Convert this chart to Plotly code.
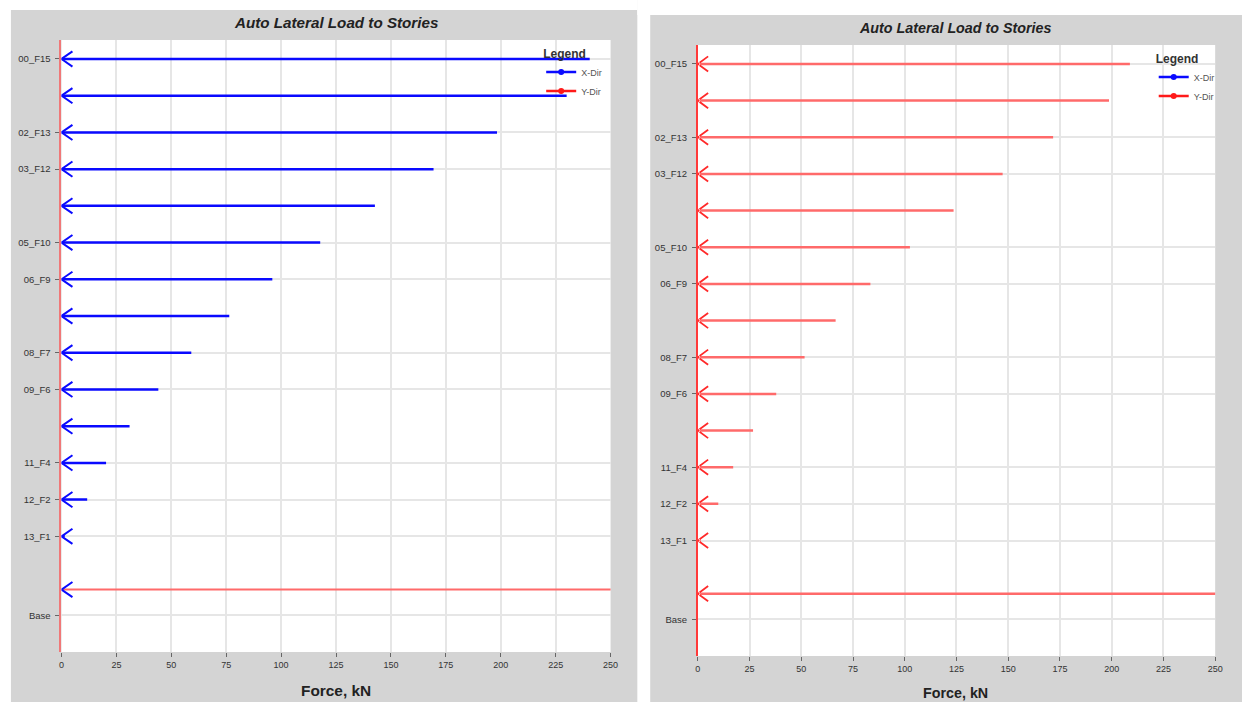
import plotly.graph_objects as go

# ---- figure frame (pixels) ----
W, H = 1242, 702

# ---- data ----
# Elevation (m) of every level that receives an auto lateral load, top to bottom
load_elev = [45.45, 42.45, 39.45, 36.45, 33.45, 30.45, 27.45, 24.45,
             21.45, 18.45, 15.45, 12.45, 9.45, 6.45, 2.1]

# X-direction auto lateral load per level (kN)
x_dir_load = [240.5, 230.0, 198.3, 169.4, 142.7, 117.8, 96.0, 76.4,
              59.1, 44.1, 31.0, 20.3, 11.7, 1.5, 0.0]

# Y-direction load reported together with the X case (kN)
x_case_y_dir_load = [0.0] * 14 + [290.0]

# Y-direction auto lateral load per level (kN)
y_dir_load = [208.8, 198.7, 171.7, 147.3, 123.6, 102.5, 83.4, 66.6,
              51.6, 37.9, 26.7, 17.1, 9.9, 1.5, 290.0]

# Story tick labels and their elevations (m)
story_tick_text = ["00_F15", "02_F13", "03_F12", "05_F10", "06_F9", "08_F7",
                   "09_F6", "11_F4", "12_F2", "13_F1", "Base"]
story_tick_elev = [45.45, 39.45, 36.45, 30.45, 27.45, 21.45,
                   18.45, 12.45, 9.45, 6.45, 0.0]

force_ticks = [0, 25, 50, 75, 100, 125, 150, 175, 200, 225, 250]

# ---- styling ----
FONT = "Liberation Sans, Arial, sans-serif"
BLUE = "#0a0aff"
RED_HEAD = "#ff2a2a"
RED_SHAFT = "#ff6a6a"
GRID = "#e6e6e6"
PANEL_GRAY = "#d4d4d4"
HEAD_DX = 5.0     # arrowhead depth, kN
HEAD_DY = 0.62    # arrowhead half height, m


def shafts(values, elev):
    xs, ys = [], []
    for v, e in zip(values, elev):
        if v:
            xs += [0, v, None]
            ys += [e, e, None]
    return xs, ys


def heads(elev):
    xs, ys, sizes = [], [], []
    for e in elev:
        xs += [HEAD_DX, 0, HEAD_DX, None]
        ys += [e + HEAD_DY, e, e - HEAD_DY, None]
        sizes += [0, 4, 0, 0]
    return xs, ys, sizes


fig = go.Figure()

# ---------- left panel: X case ----------
sx, sy = shafts(x_case_y_dir_load, load_elev)
fig.add_trace(go.Scatter(x=sx, y=sy, mode="lines", xaxis="x", yaxis="y",
                         line=dict(color=RED_SHAFT, width=2),
                         showlegend=False, hoverinfo="skip"))
sx, sy = shafts(x_dir_load, load_elev)
fig.add_trace(go.Scatter(x=sx, y=sy, mode="lines", xaxis="x", yaxis="y",
                         line=dict(color=BLUE, width=2.5),
                         showlegend=False, hoverinfo="skip"))
hx, hy, hs = heads(load_elev)
fig.add_trace(go.Scatter(x=hx, y=hy, mode="lines", xaxis="x", yaxis="y",
                         line=dict(color=BLUE, width=2),
                         showlegend=False, hoverinfo="skip"))
fig.add_trace(go.Scatter(x=[None], y=[None], mode="lines+markers", name="X-Dir",
                         xaxis="x", yaxis="y", legend="legend",
                         line=dict(color=BLUE, width=2.5),
                         marker=dict(color=BLUE, size=6)))
fig.add_trace(go.Scatter(x=[None], y=[None], mode="lines+markers", name="Y-Dir",
                         xaxis="x", yaxis="y", legend="legend",
                         line=dict(color="#ff1a1a", width=2.5),
                         marker=dict(color="#ff1a1a", size=6)))

# ---------- right panel: Y case ----------
sx, sy = shafts(y_dir_load, load_elev)
fig.add_trace(go.Scatter(x=sx, y=sy, mode="lines", xaxis="x2", yaxis="y2",
                         line=dict(color=RED_SHAFT, width=2.5),
                         showlegend=False, hoverinfo="skip"))
hx, hy, hs = heads(load_elev)
fig.add_trace(go.Scatter(x=hx, y=hy, mode="lines+markers", xaxis="x2", yaxis="y2",
                         line=dict(color=RED_HEAD, width=1.8),
                         marker=dict(color=RED_HEAD, size=hs),
                         showlegend=False, hoverinfo="skip"))
fig.add_trace(go.Scatter(x=[None], y=[None], mode="lines+markers", name="X-Dir",
                         xaxis="x2", yaxis="y2", legend="legend2",
                         line=dict(color=BLUE, width=2.5),
                         marker=dict(color=BLUE, size=6)))
fig.add_trace(go.Scatter(x=[None], y=[None], mode="lines+markers", name="Y-Dir",
                         xaxis="x2", yaxis="y2", legend="legend2",
                         line=dict(color="#ff1a1a", width=2.5),
                         marker=dict(color="#ff1a1a", size=6)))


def px_x(p):
    return p / W


def px_y(p):
    return 1 - p / H


# plot areas in pixels: (left, right, top, bottom)
L_AREA = (59, 613, 40, 652)
R_AREA = (701, 1223, 45, 656)


def xaxis_cfg(area, anchor):
    return dict(domain=[px_x(area[0]), px_x(area[1])], anchor=anchor,
                range=[0, 250], tickvals=force_ticks, showgrid=True,
                gridcolor=GRID, gridwidth=1.5, zeroline=False,
                ticks="outside", ticklen=4, tickcolor="#666",
                tickfont=dict(family=FONT, size=9, color="#333"),
                showline=False, fixedrange=True)


def yaxis_cfg(area, anchor, linecolor, linewidth):
    return dict(domain=[px_y(area[3]), px_y(area[2])], anchor=anchor,
                range=[-3, 47], tickvals=story_tick_elev, ticktext=story_tick_text,
                showgrid=True, gridcolor=GRID, gridwidth=1.5, zeroline=False,
                ticks="outside", ticklen=4, tickcolor="#666",
                ticklabelstandoff=3,
                tickfont=dict(family=FONT, size=9.5, color="#333"),
                showline=True, linecolor=linecolor, linewidth=linewidth,
                fixedrange=True)


def paper_text(text, x_px, y_px, size):
    return dict(text=text, x=px_x(x_px), y=px_y(y_px), xref="paper", yref="paper",
                xanchor="center", yanchor="middle", showarrow=False,
                font=dict(family=FONT, size=size, color="#222"))


title_text = "<b><i>Auto Lateral Load to Stories</i></b>"
annotations = [
    paper_text(title_text, 336, 23, 15.2),
    paper_text(title_text, 961, 28, 14.3),
    paper_text("<b>Force, kN</b>", 336, 690, 15.4),
    paper_text("<b>Force, kN</b>", 961, 693, 14.3),
]

# white strips around the two gray chart panels
shapes = [
    dict(type="rect", xref="paper", yref="paper", layer="below", line_width=0,
         fillcolor="white", x0=-0.05, x1=px_x(8), y0=-0.05, y1=1.05),
    dict(type="rect", xref="paper", yref="paper", layer="below", line_width=0,
         fillcolor="white", x0=-0.05, x1=px_x(640), y0=px_y(10), y1=1.05),
    dict(type="rect", xref="paper", yref="paper", layer="below", line_width=0,
         fillcolor="white", x0=px_x(640), x1=px_x(653), y0=-0.05, y1=1.05),
    dict(type="rect", xref="paper", yref="paper", layer="below", line_width=0,
         fillcolor="white", x0=px_x(640), x1=1.05, y0=px_y(15), y1=1.05),
]


def legend_cfg(x_px, y_px):
    return dict(x=px_x(x_px), y=px_y(y_px), xanchor="left", yanchor="top",
                bgcolor="rgba(0,0,0,0)", borderwidth=0,
                title=dict(text="<b>Legend</b>", side="top",
                           font=dict(family=FONT, size=12, color="#333")),
                font=dict(family=FONT, size=9, color="#555"),
                tracegroupgap=0, itemwidth=30)


fig.update_layout(
    width=W, height=H, autosize=False,
    margin=dict(l=0, r=0, t=0, b=0),
    paper_bgcolor=PANEL_GRAY, plot_bgcolor="white",
    xaxis=xaxis_cfg(L_AREA, "y"),
    yaxis=yaxis_cfg(L_AREA, "x", "#f07878", 2),
    xaxis2=xaxis_cfg(R_AREA, "y2"),
    yaxis2=yaxis_cfg(R_AREA, "x2", "#ff3a3a", 1.6),
    legend=legend_cfg(543, 42),
    legend2=legend_cfg(1161, 47),
    annotations=annotations,
    shapes=shapes,
    font=dict(family=FONT),
)

fig.write_html("out.html")
